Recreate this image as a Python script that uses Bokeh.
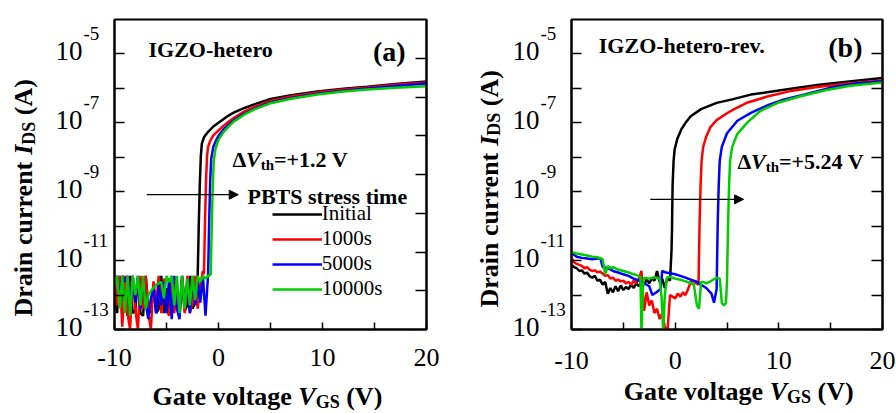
import math
from bokeh.plotting import figure
from bokeh.layouts import row
from bokeh.models import (Range1d, LogAxis, FixedTicker, LogScale, Arrow, NormalHead,
                          Legend, LegendItem, ColumnDataSource, CustomJSTickFormatter)
from bokeh.core.properties import value
from bokeh.embed import file_html
from bokeh.resources import INLINE

# ---------------- data ----------------
# common off-state gate-voltage grid (V)
v_grid = [-10.0, -9.75, -9.5, -9.25, -9.0, -8.75, -8.5, -8.25, -8.0, -7.75,
          -7.5, -7.25, -7.0, -6.75, -6.5, -6.25, -6.0, -5.75, -5.5, -5.25,
          -5.0, -4.75, -4.5, -4.25, -4.0, -3.75, -3.5, -3.25, -3.0, -2.75,
          -2.5, -2.25, -2.0, -1.75, -1.5, -1.25, -1.0, -0.75, -0.5, -0.25,
          0.0, 0.25, 0.5, 0.75, 1.0, 1.25, 1.5, 1.75, 2.0, 2.25]

# ----- panel (a) IGZO-hetero -----  off currents in pA, on-state in A
a_init_off_pA = [1.2, 0.3, 3.6, 0.3, 2.8, 0.25, 3.6, 0.3, 0.35, 3.2, 0.3, 0.25, 3.6, 0.5, 0.3,
                 2.2, 0.3, 0.4, 3.6, 0.3, 1.6, 0.3, 0.3, 3.2, 0.4, 0.3, 2.6, 0.35, 0.5, 3.6,
                 0.4, 0.6, 3.6]
a_init_on_v = [-1.9, -1.8, -1.7, -1.6, -1.4, -1.0, -0.5, 0.0, 0.5, 1.0, 1.5, 2.5, 3.5, 5.0, 7.0,
               9.5, 12.0, 14.3, 17.0, 20.0]
a_init_on_i = [1e-10, 1.5e-9, 1.1e-8, 2.5e-8, 3.8e-8, 5.5e-8, 7.8e-8, 1.0e-7, 1.3e-7, 1.65e-7,
               2.0e-7, 2.7e-7, 3.5e-7, 4.9e-7, 6.3e-7, 8.1e-7, 9.8e-7, 1.12e-6, 1.35e-6, 1.58e-6]

a_1000_off_pA = [3.6, 0.5, 3.6, 0.12, 3.6, 0.3, 0.1, 3.6, 0.4, 0.1, 3.6, 0.4, 3.6, 0.3, 0.1,
                 2.5, 0.5, 3.6, 0.3, 3.0, 0.4, 0.25, 3.6, 0.3, 2.0, 0.25, 3.6, 0.3, 3.6, 0.3,
                 0.6, 3.6, 0.4, 2.0, 5.0]
a_1000_on_v = [-1.4, -1.3, -1.2, -1.1, -1.0, -0.8, -0.5, 0.0, 0.5, 1.0, 1.5, 2.5, 3.5, 5.0, 7.0,
               9.5, 12.0, 14.3, 17.0, 20.0]
a_1000_on_i = [4e-12, 1.2e-10, 2e-9, 1.1e-8, 2e-8, 3e-8, 4.3e-8, 6e-8, 8.3e-8, 1.1e-7,
               1.4e-7, 2.15e-7, 2.95e-7, 4.3e-7, 5.8e-7, 7.6e-7, 9.3e-7, 1.07e-6, 1.27e-6, 1.48e-6]

a_5000_off_pA = [2.0, 3.6, 0.8, 3.6, 2.5, 3.6, 0.5, 3.6, 0.6, 3.6, 0.4, 3.0, 0.6, 0.2, 0.8,
                 1.6, 0.3, 2.0, 0.5, 2.4, 0.3, 3.0, 0.2, 3.6, 0.4, 0.2, 3.6, 0.5, 2.0, 0.3,
                 3.6, 0.5, 2.5, 0.6, 3.6, 0.25, 4.0]
a_5000_on_v = [-0.9, -0.8, -0.7, -0.5, -0.25, 0.0, 0.5, 1.0, 1.5, 2.5, 3.5, 5.0, 7.0, 9.5, 12.0,
               14.3, 17.0, 20.0]
a_5000_on_i = [1.2e-10, 2e-9, 9e-9, 2e-8, 3e-8, 4.2e-8, 6.5e-8, 9e-8, 1.2e-7, 1.85e-7, 2.6e-7,
               3.9e-7, 5.3e-7, 7e-7, 8.6e-7, 1e-6, 1.18e-6, 1.38e-6]

a_10000_off_pA = [2.0, 3.6, 0.4, 3.6, 0.3, 3.6, 0.25, 3.6, 1.0, 3.6, 0.5, 3.6, 0.4, 1.0, 1.3,
                  1.6, 2.0, 2.2, 2.4, 0.8, 3.6, 2.4, 3.6, 0.5, 3.6, 0.3, 3.6, 0.4, 3.0, 0.5,
                  3.6, 0.7, 3.6, 2.4, 3.6, 3.0, 3.6, 4.0]
a_10000_on_v = [-0.65, -0.55, -0.45, -0.3, 0.0, 0.5, 1.0, 1.5, 2.5, 3.5, 5.0, 7.0, 9.5, 12.0,
                14.3, 17.0, 20.0]
a_10000_on_i = [1e-10, 1.5e-9, 8e-9, 1.7e-8, 3.2e-8, 5.5e-8, 8e-8, 1.1e-7, 1.75e-7, 2.5e-7,
                3.7e-7, 5e-7, 6.6e-7, 8.1e-7, 9.3e-7, 1.05e-6, 1.15e-6]

# ----- panel (b) IGZO-hetero-rev. -----
b_init_off_pA = [7.5, 6.5, 6.0, 5.0, 5.2, 4.2, 4.5, 3.5, 3.2, 3.6, 2.6, 2.8, 2.0, 2.4, 1.1,
                 1.6, 1.2, 1.8, 1.3, 1.9, 1.4, 1.7, 1.5, 2.0, 1.6, 2.2, 1.8, 2.4, 2.0, 2.8,
                 2.2, 3.0, 2.6, 5.0, 2.4, 3.0, 1.6, 3.2, 2.6]
b_init_on_v = [-0.35, -0.3, -0.25, -0.15, -0.05, 0.2, 0.6, 1.0, 1.5, 2.5, 4.0, 5.5, 7.3, 10.5,
               13.7, 17.0, 20.0]
b_init_on_i = [2e-11, 1e-10, 1.5e-9, 8e-9, 1.7e-8, 3.4e-8, 6.5e-8, 1e-7, 1.55e-7, 2.5e-7,
               3.8e-7, 4.8e-7, 6.6e-7, 9.1e-7, 1.25e-6, 1.6e-6, 2.0e-6]

b_1000_off_pA = [12, 9, 8, 7.5, 7, 6, 6.5, 5.5, 5, 5.2, 4.6, 4.8, 4.2, 3.6, 3.8, 3.0, 3.2, 2.6,
                 2.8, 2.5, 2.6, 2.2, 2.4, 2.0, 2.6, 2.2, 3.0, 5.0, 0.35, 1.2, 0.5, 0.7, 0.3,
                 0.4, 0.2, 0.3, 0.12, 0.08, 1.0, 0.9, 0.8, 1.1, 0.9, 1.2, 1.0, 1.5, 2.4, 2.6,
                 2.2, 2.0]
b_1000_on_v = [2.35, 2.45, 2.55, 2.7, 3.0, 3.4, 4.0, 5.0, 5.65, 7.0, 8.9, 11.0, 13.7, 17.0, 20.0]
b_1000_on_i = [1e-10, 1.5e-9, 8e-9, 2e-8, 4e-8, 7.5e-8, 1.2e-7, 1.9e-7, 2.45e-7, 3.9e-7,
               5.8e-7, 8.2e-7, 1.1e-6, 1.42e-6, 1.7e-6]

b_5000_v = [-10, -9.5, -9, -8.5, -8, -7.5, -7.2, -7.0, -6.5, -6, -5.5, -5, -4.5, -4, -3.5, -3,
            -2.5, -2.2, -1.8, -1.4, -1.25, -1, -0.5, 0, 0.5, 1, 1.5, 2, 2.5, 3, 3.5, 3.75, 4.0,
            4.1, 4.2, 4.3, 4.5, 5.0, 6.0, 7.3, 9.0, 10.5, 12.5, 15.3, 17.5, 20.0]
b_5000_i = [16.5e-12, 13e-12, 12e-12, 11.5e-12, 11e-12, 11.5e-12, 11.5e-12, 6.5e-12, 6e-12,
            5e-12, 4.5e-12, 4e-12, 3.6e-12, 3e-12, 2.6e-12, 2.2e-12, 1.8e-12, 1.0e-12, 1.2e-12,
            1.5e-12, 5.0e-12, 4.6e-12, 4.3e-12, 4.0e-12, 3.6e-12, 3.2e-12, 2.8e-12, 2.5e-12,
            2.0e-12, 1.6e-12, 1.1e-12, 0.6e-12, 1.5e-12,
            1e-10, 1.5e-9, 8e-9, 2e-8, 5e-8, 1.15e-7, 1.95e-7, 3.3e-7, 4.8e-7, 6.7e-7, 1.1e-6,
            1.38e-6, 1.62e-6]

b_10000_v = [-10, -9.5, -9, -8.5, -8, -7.5, -7, -6.75, -6.5, -6.25, -6, -5.5, -5, -4.5, -4,
             -3.5, -3.35, -3.25, -3.1, -3, -2.5, -2, -1.5, -1.3, -1.15, -1.0, -0.8, -0.5, 0,
             0.5, 1, 1.5, 1.8, 2.1, 2.3, 2.5, 2.7, 3.0, 3.5, 4.0, 4.3, 4.5, 4.7, 4.9, 5.0,
             5.1, 5.2, 5.3, 5.5, 6.0, 7.0, 8.2, 10.0, 12.1, 14.5, 16.9, 20.0]
b_10000_i = [18e-12, 16e-12, 15e-12, 14e-12, 13e-12, 12.5e-12, 11e-12, 4.0e-12, 7.0e-12,
             6.0e-12, 6.5e-12, 5.5e-12, 5.0e-12, 4.5e-12, 4.0e-12, 3.6e-12, 3.4e-12, 0.08e-12,
             2.0e-12, 3.2e-12, 3.0e-12, 3.3e-12, 3.0e-12, 0.8e-12, 0.08e-12, 1.0e-12, 3.2e-12,
             3.4e-12, 3.0e-12, 2.8e-12, 2.5e-12, 2.2e-12, 2.0e-12, 0.5e-12, 0.4e-12, 2.4e-12,
             2.4e-12, 2.2e-12, 2.6e-12, 3.2e-12, 3.0e-12, 0.6e-12, 0.5e-12, 0.6e-12, 2.5e-12,
             1e-10, 1.5e-9, 8e-9, 2e-8, 4.8e-8, 1.05e-7, 2.2e-7, 3.9e-7, 5.9e-7, 8.8e-7,
             1.2e-6, 1.48e-6]

series_names = ["Initial", "1000s", "5000s", "10000s"]
series_colors = ["#000000", "#ff0000", "#0000ff", "#00cc00"]

x_ticks = [-10, -5, 0, 5, 10, 15, 20]
x_tick_labels = {-10: "-10", -5: "", 0: "0", 5: "", 10: "10", 15: "", 20: "20"}
y_ticks = [1e-13, 1e-12, 1e-11, 1e-10, 1e-9, 1e-8, 1e-7, 1e-6, 1e-5]
y_label_vals = [1e-5, 1e-7, 1e-9, 1e-11, 1e-13]
y_label_base = ["10", "10", "10", "10", "10"]
y_label_exp = ["-5", "-7", "-9", "-11", "-13"]
a_right_ticks = [1e-11, 1e-10, 1e-9, 1e-8, 1e-7, 1e-6, 1e-5]

a_arrow_x = [-6.9, 1.9]
a_arrow_y = 8.2e-10
b_arrow_x = [-2.4, 6.6]
b_arrow_y = 6.0e-10

# ---------------- helpers ----------------
FONT = "Liberation Serif"
BASE_FIX = 10  # correction of the renderer's alphabetic-baseline placement (px)
BOLD = {' ': 250, '(': 333, ')': 333, '+': 570, '-': 333, '.': 250, '=': 570,
        'A': 722, 'B': 667, 'D': 722, 'G': 778, 'I': 389, 'O': 778, 'P': 611, 'S': 556,
        'T': 667, 'V': 722, 'Z': 667, 'a': 500, 'b': 556, 'c': 444, 'e': 444, 'g': 500,
        'h': 556, 'i': 278, 'l': 278, 'm': 833, 'n': 556, 'o': 500, 'r': 444, 's': 389,
        't': 333, 'u': 556, 'v': 500, '\u0394': 612}
BOLDIT = {'V': 667, 'I': 389}
METRICS = {"bold": BOLD, "bold italic": BOLDIT}


def tw(s, size, style):
    m = METRICS.get(style, BOLD)
    return sum(m.get(c, 500) for c in s) * size / 1000.0


def rich(p, ax, ay, dx, dy, pieces, vertical=False):
    pos = 0.0
    for text, size, style, shift in pieces:
        lead = len(text) - len(text.lstrip(" "))
        pos += lead * 250 * size / 1000.0
        text = text.lstrip(" ")
        if vertical:
            xo, yo, ang = dx + shift - 9, dy - pos, math.pi / 2
        else:
            xo, yo, ang = dx + pos, dy + shift - BASE_FIX, 0.0
        src = ColumnDataSource(dict(x=[ax], y=[ay], t=[text]))
        r = p.text(x="x", y="y", text="t", source=src, x_offset=xo, y_offset=yo, angle=ang,
                   text_align="left", text_baseline="alphabetic", text_font=value(FONT),
                   text_font_size=f"{size}px", text_font_style=style, text_color="black")
        r.level = "overlay"
        pos += tw(text, size, style)


def style_axis(ax, tick_len):
    ax.axis_line_width = 2
    ax.axis_line_color = "black"
    ax.major_tick_in = tick_len
    ax.major_tick_out = 0
    ax.major_tick_line_width = 1.5
    ax.major_tick_line_color = "black"
    ax.minor_tick_line_color = None


def make_panel(borders, label_standoff):
    left, right, top, bottom = borders
    p = figure(width=448, height=413, x_range=Range1d(-10, 20), y_range=Range1d(1e-13, 1e-4),
               y_axis_type="log", output_backend="svg", toolbar_location=None,
               min_border_left=left, min_border_right=right, min_border_top=top,
               min_border_bottom=bottom)
    p.grid.visible = False
    p.outline_line_color = "black"
    p.outline_line_width = 2
    p.background_fill_color = "white"
    p.border_fill_color = "white"
    xa = p.xaxis[0]
    xa.ticker = FixedTicker(ticks=x_ticks)
    xa.major_label_overrides = x_tick_labels
    xa.major_label_text_font = FONT
    xa.major_label_text_font_size = "26px"
    xa.major_label_text_color = "black"
    xa.major_label_standoff = label_standoff
    style_axis(xa, 7)
    ya = p.yaxis[0]
    ya.ticker = FixedTicker(ticks=y_ticks)
    ya.formatter = CustomJSTickFormatter(code="return '';")
    ya.major_label_text_font_size = "0px"
    style_axis(ya, 10)
    # y tick labels with superscripts
    src = ColumnDataSource(dict(x=[-10] * len(y_label_vals), y=y_label_vals,
                                b=y_label_base, e=y_label_exp))
    r1 = p.text(x="x", y="y", text="b", source=src, x_offset=-32, y_offset=7 - BASE_FIX,
                text_align="right", text_baseline="alphabetic", text_font=value(FONT),
                text_font_size="27px", text_color="black")
    r2 = p.text(x="x", y="y", text="e", source=src, x_offset=-31, y_offset=-20,
                text_align="left", text_baseline="alphabetic", text_font=value(FONT),
                text_font_size="19px", text_color="black")
    r1.level = "overlay"
    r2.level = "overlay"
    return p


def add_curves(p, curves):
    rs = []
    for (v, i), c in zip(curves, series_colors):
        rs.append(p.line(v, i, line_width=2.5, line_color=c))
    return rs


# ---------------- panel (a) ----------------
pa = make_panel((114, 22, 15, 84), 19)
pa.extra_y_ranges = {"r": Range1d(1e-12, 1e-4)}
pa.extra_y_scales = {"r": LogScale()}
ra = LogAxis(y_range_name="r", ticker=FixedTicker(ticks=a_right_ticks),
             formatter=CustomJSTickFormatter(code="return '';"))
ra.major_label_text_font_size = "0px"
style_axis(ra, 11)
pa.add_layout(ra, "right")

a_curves = [
    (v_grid[:33] + a_init_on_v, [x * 1e-12 for x in a_init_off_pA] + a_init_on_i),
    (v_grid[:35] + a_1000_on_v, [x * 1e-12 for x in a_1000_off_pA] + a_1000_on_i),
    (v_grid[:37] + a_5000_on_v, [x * 1e-12 for x in a_5000_off_pA] + a_5000_on_i),
    (v_grid[:38] + a_10000_on_v, [x * 1e-12 for x in a_10000_off_pA] + a_10000_on_i),
]
a_rs = add_curves(pa, a_curves)

leg = Legend(items=[LegendItem(label=n, renderers=[r]) for n, r in zip(series_names, a_rs)],
             location=(157.7, 27.8), glyph_width=50, glyph_height=24, label_height=24,
             label_standoff=0, spacing=0, padding=0, margin=0, border_line_color=None,
             background_fill_alpha=0, label_text_font=FONT, label_text_font_size="21px",
             label_text_color="black")
pa.add_layout(leg, "center")

pa.add_layout(Arrow(end=NormalHead(size=9, fill_color="black", line_color="black", line_width=1),
                    x_start=a_arrow_x[0], y_start=a_arrow_y, x_end=a_arrow_x[1], y_end=a_arrow_y,
                    line_width=1.2, line_color="black"))

TL = (-10, 1e-4)   # frame top-left anchor
BL = (-10, 1e-13)  # frame bottom-left anchor
rich(pa, *TL, 34, 40, [("IGZO-hetero", 22, "bold", 0)])
rich(pa, *TL, 258.4, 42, [("(a)", 28, "bold", 0)])
rich(pa, *TL, 118, 150, [("\u0394", 22, "bold", 0), ("V", 22, "bold italic", 0),
                         ("th", 15, "bold", 5), ("=+1.2 V", 22, "bold", 0)])
rich(pa, *TL, 133, 186.7, [("PBTS stress time", 22, "bold", 0)])
rich(pa, *BL, 38, 77, [("Gate voltage ", 26, "bold", 0), ("V", 26, "bold italic", 0),
                       ("GS", 18, "bold", 5), (" (V)", 26, "bold", 0)])
rich(pa, *TL, -82, 297, [("Drain current ", 26, "bold", 0), ("I", 26, "bold italic", 0),
                         ("DS", 18, "bold", 5), (" (A)", 26, "bold", 0)], vertical=True)

# ---------------- panel (b) ----------------
pb = make_panel((123, 14, 19, 81), 22)
rb = LogAxis(ticker=FixedTicker(ticks=y_ticks), formatter=CustomJSTickFormatter(code="return '';"))
rb.major_label_text_font_size = "0px"
style_axis(rb, 11)
pb.add_layout(rb, "right")

b_curves = [
    (v_grid[:39] + b_init_on_v, [x * 1e-12 for x in b_init_off_pA] + b_init_on_i),
    (v_grid[:50] + b_1000_on_v, [x * 1e-12 for x in b_1000_off_pA] + b_1000_on_i),
    (b_5000_v, b_5000_i),
    (b_10000_v, b_10000_i),
]
add_curves(pb, b_curves)

pb.add_layout(Arrow(end=NormalHead(size=9, fill_color="black", line_color="black", line_width=1),
                    x_start=b_arrow_x[0], y_start=b_arrow_y, x_end=b_arrow_x[1], y_end=b_arrow_y,
                    line_width=1.2, line_color="black"))

rich(pb, *TL, 27.3, 36, [("IGZO-hetero-rev.", 22, "bold", 0)])
rich(pb, *TL, 256.8, 38, [("(b)", 28, "bold", 0)])
rich(pb, *TL, 166, 152, [("\u0394", 22, "bold", 0), ("V", 22, "bold italic", 0),
                         ("th", 15, "bold", 5), ("=+5.24 V", 22, "bold", 0)])
rich(pb, *BL, 52.3, 72, [("Gate voltage ", 26, "bold", 0), ("V", 26, "bold italic", 0),
                         ("GS", 18, "bold", 5), (" (V)", 26, "bold", 0)])
rich(pb, *TL, -73.3, 288, [("Drain current ", 26, "bold", 0), ("I", 26, "bold italic", 0),
                           ("DS", 18, "bold", 5), (" (A)", 26, "bold", 0)], vertical=True)

layout = row(pa, pb)
open("out.html", "w").write(file_html(layout, INLINE, title="IGZO transfer curves"))
